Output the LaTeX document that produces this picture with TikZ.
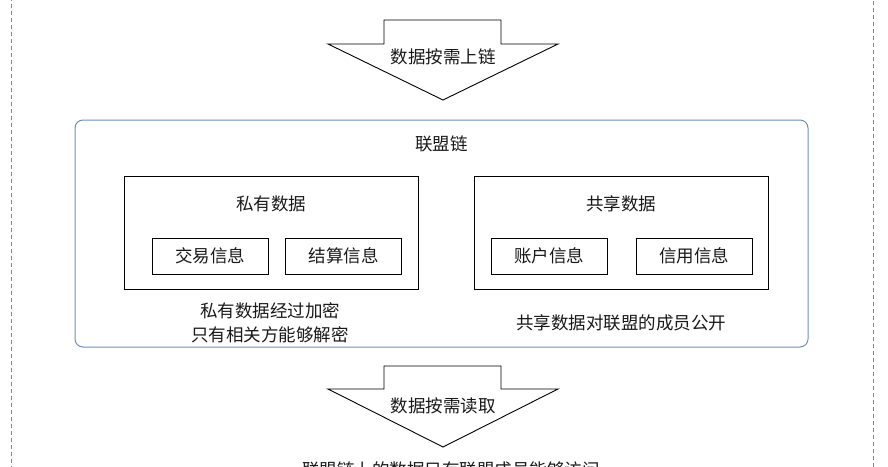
\documentclass[tikz,border=0pt]{standalone}
\usepackage{fontspec}
\setmainfont{Noto Sans CJK SC}
\usetikzlibrary{positioning}
\definecolor{chainblue}{HTML}{6C8EBF}
\definecolor{frame}{HTML}{7A869C}

\begin{document}
\begin{tikzpicture}[x=1pt,y=-1pt,font=\fontsize{17.5}{24}\selectfont,text=black!90]
\tikzstyle{databox}=[draw,line width=0.9pt,minimum width=294pt,minimum height=113pt]
\tikzstyle{infobox}=[draw,line width=0.9pt,minimum width=116pt,minimum height=36pt]
\tikzstyle{label}=[inner sep=1pt,align=center]
\useasboundingbox (0,0) rectangle (888,466);
% outer dashed frame
\draw[frame,dash pattern=on 4pt off 3pt,line width=0.9pt] (11,-10) rectangle (873,480);
% arrow: upload to chain
\draw[line width=0.9pt,fill=white]
    (384,20) -- (501,20) -- (501,44) -- (558,44) -- (443,100)
    -- (328,44) -- (384,44) -- cycle;
\node [label] (up) at (443,57) {数据按需上链};
% consortium chain
\node [draw=chainblue,line width=1pt,rounded corners=8pt,
       minimum width=733pt,minimum height=227pt] (chain) at (441.5,233.5) {};
\node [label] (chainlbl) at (441.5,144) {联盟链};
\node [databox] (private) at (271,232.5) {};
\node [label] (privlbl) at (271,204) {私有数据};
\node [infobox] (trade) at (210,256) {交易信息};
\node [infobox] (settle) at (343.5,256) {结算信息};
\node [databox] (shared) at (621,232.5) {};
\node [label] (sharelbl) at (621,204) {共享数据};
\node [infobox] (account) at (549,256) {账户信息};
\node [infobox] (credit) at (694,256) {信用信息};
\node [label] (privnote) at (270,323) {私有数据经过加密\\只有相关方能够解密};
\node [label] (sharenote) at (621,323) {共享数据对联盟的成员公开};
% arrow: read on demand
\draw[line width=0.9pt,fill=white]
    (384,366) -- (501,366) -- (501,389) -- (558,389) -- (443,447)
    -- (328,389) -- (384,389) -- cycle;
\node [label] (down) at (443,406) {数据按需读取};
\node [label] (access) at (451,470) {联盟链上的数据只有联盟成员能够访问};
\end{tikzpicture}
\end{document}
